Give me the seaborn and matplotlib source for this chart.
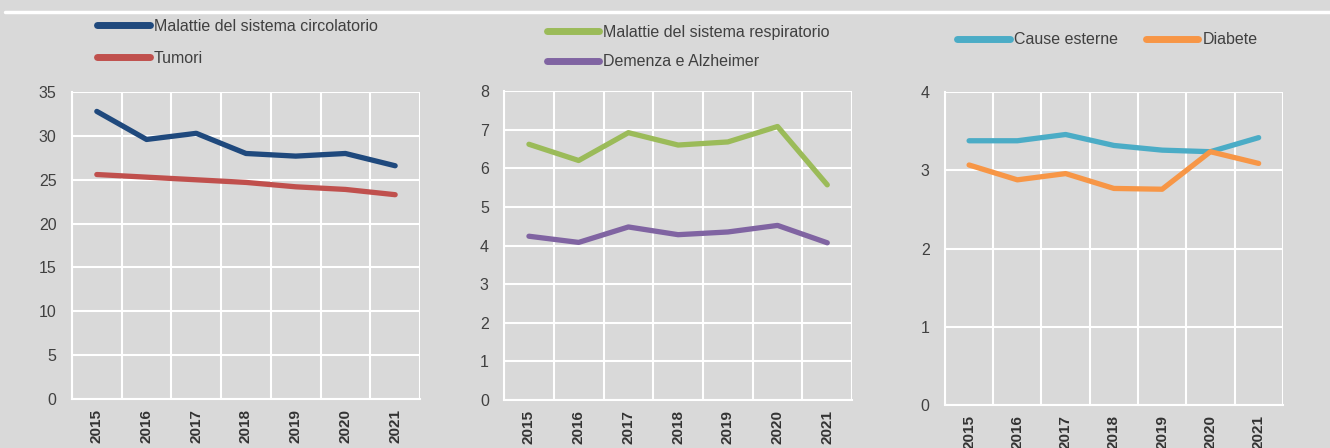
import numpy as np
import pandas as pd
import matplotlib
matplotlib.use('Agg')
import matplotlib.pyplot as plt
from matplotlib.lines import Line2D
import seaborn as sns

years = [2015, 2016, 2017, 2018, 2019, 2020, 2021]
year_labels = [str(y) for y in years]

circolatorio = [32.8, 29.6, 30.3, 28.0, 27.7, 28.0, 26.6]
tumori = [25.6, 25.3, 25.0, 24.7, 24.2, 23.9, 23.3]
respiratorio = [6.62, 6.2, 6.92, 6.6, 6.68, 7.08, 5.57]
demenza = [4.24, 4.08, 4.48, 4.28, 4.35, 4.52, 4.07]
cause_esterne = [3.38, 3.38, 3.46, 3.32, 3.26, 3.24, 3.42]
diabete = [3.07, 2.88, 2.96, 2.77, 2.76, 3.24, 3.09]

bg = '#d9d9d9'
txt = '#404040'
sns.set_style('white')
plt.rcParams['font.family'] = ['Liberation Sans', 'DejaVu Sans']

fig = plt.figure(figsize=(13.3, 4.48), dpi=100, facecolor=bg)

panels = [
    dict(pos=[0.0541, 0.1094, 0.2617, 0.685], ymax=35, step=5,
         series=[('Malattie del sistema circolatorio', circolatorio, '#1f497d'),
                 ('Tumori', tumori, '#c0504d')],
         leg=(0.0729, 0.958), ncol=1, ls=1.06),
    dict(pos=[0.379, 0.107, 0.2617, 0.690], ymax=8, step=1,
         series=[('Malattie del sistema respiratorio', respiratorio, '#9bbb59'),
                 ('Demenza e Alzheimer', demenza, '#8064a2')],
         leg=(0.411, 0.944), ncol=1, ls=0.88),
    dict(pos=[0.7105, 0.096, 0.254, 0.698], ymax=4, step=1,
         series=[('Cause esterne', cause_esterne, '#4bacc6'),
                 ('Diabete', diabete, '#f79646')],
         leg=(0.7195, 0.928), ncol=2, ls=0.88),
]

for p in panels:
    ax = fig.add_axes(p['pos'])
    ax.set_facecolor(bg)
    for name, vals, col in p['series']:
        sns.lineplot(x=years, y=vals, ax=ax, color=col, linewidth=3.8,
                     label=name, solid_capstyle='round')
    ax.set_xlim(2014.5, 2021.5)
    ax.set_ylim(0, p['ymax'])
    ax.set_yticks(np.arange(0, p['ymax'] + 0.01, p['step']))
    ax.set_xticks(years)
    ax.set_xticklabels(year_labels, rotation=90, fontsize=11, fontweight='bold', color='#333333')
    ax.set_xticks(np.arange(2014.5, 2022, 1), minor=True)
    ax.tick_params(axis='x', which='major', length=0, pad=7)
    ax.tick_params(axis='x', which='minor', length=4, width=1.5, color='white')
    ax.tick_params(axis='y', length=4, width=1.5, color='white', labelsize=11.5,
                   labelcolor=txt, pad=7)
    ax.grid(axis='y', which='major', color='white', linewidth=1.5)
    ax.grid(axis='x', which='minor', color='white', linewidth=1.5)
    ax.grid(axis='x', which='major', visible=False)
    for s in ax.spines.values():
        s.set_visible(False)
    for side in ['left', 'bottom']:
        ax.spines[side].set_visible(True)
        ax.spines[side].set_color('white')
        ax.spines[side].set_linewidth(1.5)
    ax.set_xlabel('')
    ax.set_ylabel('')
    leg = ax.legend(loc='upper left', bbox_to_anchor=p['leg'], bbox_transform=fig.transFigure,
                    ncol=p['ncol'], frameon=False, fontsize=11.5, handlelength=3.3,
                    handletextpad=0.25, labelspacing=p['ls'], columnspacing=1.75,
                    borderpad=0, borderaxespad=0)
    for t in leg.get_texts():
        t.set_color(txt)
    for h in leg.get_lines():
        h.set_linewidth(5)
        h.set_solid_capstyle('round')

fig.add_artist(Line2D([5 / 1330, 1.0], [1 - 12 / 448, 1 - 12 / 448],
                      transform=fig.transFigure, color='white', linewidth=2.5))

fig.savefig('out.png', dpi=100, facecolor=bg)
